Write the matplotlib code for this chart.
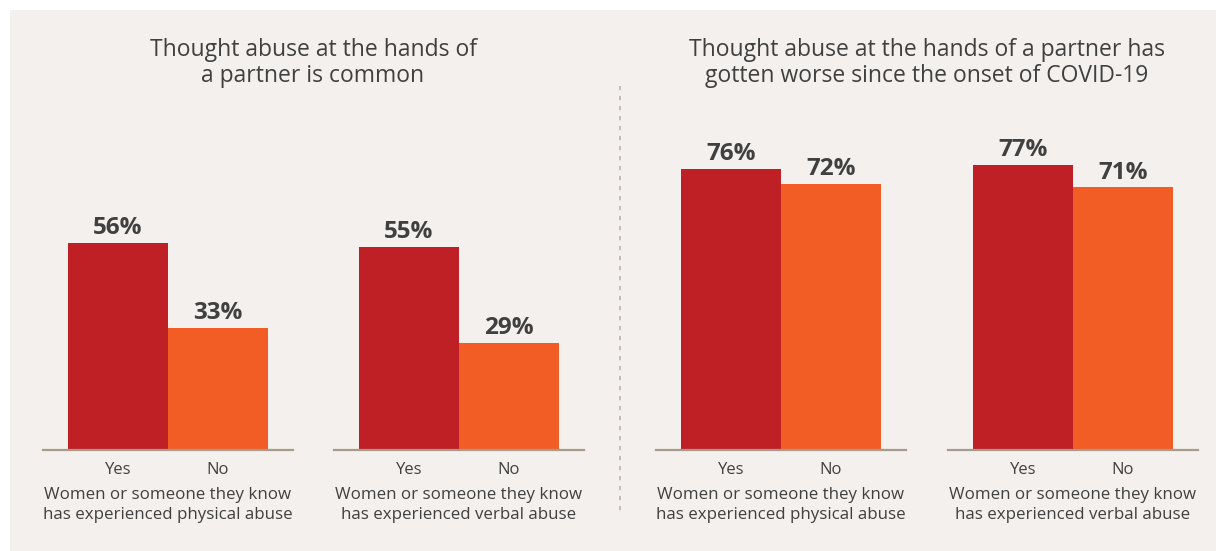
import matplotlib
matplotlib.use("Agg")
import matplotlib.pyplot as plt
from matplotlib.patches import Rectangle
from matplotlib.lines import Line2D

plt.rcParams['font.family'] = ['Open Sans', 'DejaVu Sans']

W, H = 1216, 551
DPI = 100

titles = ["Thought abuse at the hands of\na partner is common",
          "Thought abuse at the hands of a partner has\ngotten worse since the onset of COVID-19"]
answers = ["Yes", "No"]
groups = ["Women or someone they know\nhas experienced physical abuse",
          "Women or someone they know\nhas experienced verbal abuse",
          "Women or someone they know\nhas experienced physical abuse",
          "Women or someone they know\nhas experienced verbal abuse"]
values = [[56, 33], [55, 29], [76, 72], [77, 71]]

colors = ["#BE2026", "#F15D24"]
bg = "#F3F0ED"
txt = "#404040"
axis_col = "#A89B8D"

fig = plt.figure(figsize=(W / DPI, H / DPI), dpi=DPI)
fig.patch.set_facecolor("white")
fig.patches.append(Rectangle((10 / W, 0), 1 - 10 / W, 1 - 10 / H,
                             transform=fig.transFigure, facecolor=bg,
                             edgecolor="none", zorder=-10))

def fx(px):
    return px / W

def fy(py):
    return 1 - py / H

base_y = 450
top_y = 80
lefts = [43, 334, 656, 948]
aw = 250

for i, (left, vals, grp) in enumerate(zip(lefts, values, groups)):
    ax = fig.add_axes([fx(left), fy(base_y), aw / W, (base_y - top_y) / H])
    ax.set_facecolor("none")
    x = list(range(len(vals)))
    ax.bar(x, vals, width=1.0, color=colors, edgecolor="none")
    ax.set_xlim(-0.75, 1.75)
    ax.set_ylim(0, 100)
    for s in ["top", "left", "right"]:
        ax.spines[s].set_visible(False)
    ax.spines["bottom"].set_color(axis_col)
    ax.spines["bottom"].set_linewidth(1.6)
    ax.set_yticks([])
    ax.set_xticks(x)
    ax.set_xticklabels(answers, fontsize=12, color=txt, fontweight=500)
    ax.tick_params(axis="x", length=0, pad=9)
    for xi, v in zip(x, vals):
        ax.annotate(f"{v}%", (xi, v), xytext=(0, 2), textcoords="offset points",
                    ha="center", va="bottom", fontsize=17.5, fontweight="bold",
                    color=txt)
    fig.text(fx(left + aw / 2), fy(505), grp, ha="center", va="center",
             fontsize=12.2, color=txt, linespacing=1.3, fontweight=500)

for cx, t in zip([313, 927], titles):
    fig.text(fx(cx), fy(63), t, ha="center", va="center",
             fontsize=16.5, color=txt, linespacing=1.15, fontweight=500)

fig.lines.append(Line2D([fx(620), fx(620)], [fy(86), fy(513)],
                        transform=fig.transFigure, color="#BDB3AA",
                        linewidth=1.2, linestyle=(0, (2.5, 3.5))))

fig.savefig("out.png", dpi=DPI, facecolor=fig.get_facecolor())
